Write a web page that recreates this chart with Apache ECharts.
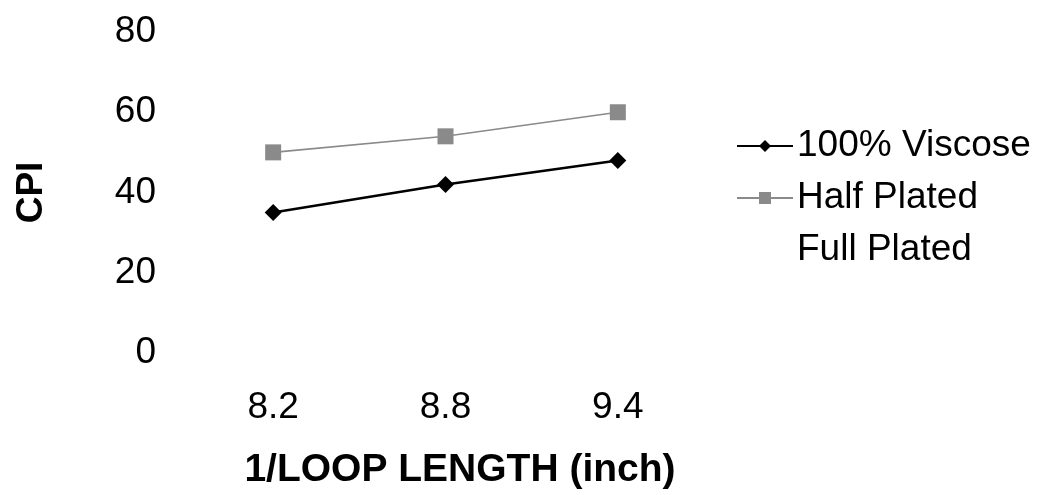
<!DOCTYPE html>
<html>
<head>
<meta charset="utf-8">
<script src="https://cdn.jsdelivr.net/npm/echarts@6/dist/echarts.min.js"></script>
<style>
  html, body { margin: 0; padding: 0; background: #fff; }
  #chart { width: 1054px; height: 495px; }
</style>
</head>
<body>
<div id="chart"></div>
<script>
// Loop length categories (1/loop length, inch)
const categories = ['8.2', '8.8', '9.4'];
// Courses per inch for each fabric type
const viscose = [35, 42, 48];
const halfPlated = [50, 54, 60];
const fullPlated = [null, null, null];
const yTicks = [0, 20, 40, 60, 80];

const FONT = '"Liberation Sans", Arial, sans-serif';

const chart = echarts.init(document.getElementById('chart'), null, { renderer: 'canvas' });

chart.setOption({
  animation: false,
  backgroundColor: '#ffffff',
  textStyle: { fontFamily: FONT },
  grid: { left: 187, right: 350, top: 32, bottom: 132, containLabel: false },
  legend: {
    orient: 'vertical',
    left: 731,
    top: 122,
    itemWidth: 56,
    itemHeight: 15,
    itemGap: 14,
    textStyle: { fontFamily: FONT, fontSize: 37, color: '#000', lineHeight: 38, padding: [0, 0, 0, -1] },
    data: ['100% Viscose', 'Half Plated', 'Full Plated']
  },
  xAxis: {
    type: 'category',
    data: categories,
    boundaryGap: true,
    axisLine: { show: false },
    axisTick: { show: false },
    axisLabel: { fontFamily: FONT, fontSize: 37, color: '#000', margin: 36 },
    name: '1/LOOP LENGTH (inch)',
    nameLocation: 'middle',
    nameGap: 98,
    nameTextStyle: { fontFamily: FONT, fontSize: 39, fontWeight: 'bold', color: '#000', padding: [0, 0, 0, 29] }
  },
  yAxis: {
    type: 'value',
    min: yTicks[0],
    max: yTicks[yTicks.length - 1],
    interval: 20,
    axisLine: { show: false },
    axisTick: { show: false },
    splitLine: { show: false },
    axisLabel: { fontFamily: FONT, fontSize: 37, color: '#000', margin: 31 },
    name: 'CPI',
    nameLocation: 'middle',
    nameGap: 137,
    nameRotate: 90,
    nameTextStyle: { fontFamily: FONT, fontSize: 37, fontWeight: 'bold', color: '#000' }
  },
  series: [
    {
      name: '100% Viscose',
      type: 'line',
      data: viscose,
      symbol: 'diamond',
      symbolSize: 17,
      itemStyle: { color: '#000' },
      lineStyle: { color: '#000', width: 2.5 }
    },
    {
      name: 'Half Plated',
      type: 'line',
      data: halfPlated,
      symbol: 'rect',
      symbolSize: 16,
      itemStyle: { color: '#8a8a8a' },
      lineStyle: { color: '#8a8a8a', width: 1.6 }
    },
    {
      name: 'Full Plated',
      type: 'line',
      data: fullPlated,
      symbol: 'none',
      itemStyle: { color: 'rgba(0,0,0,0)' },
      lineStyle: { color: 'rgba(0,0,0,0)', width: 0 }
    }
  ]
});
</script>
</body>
</html>
